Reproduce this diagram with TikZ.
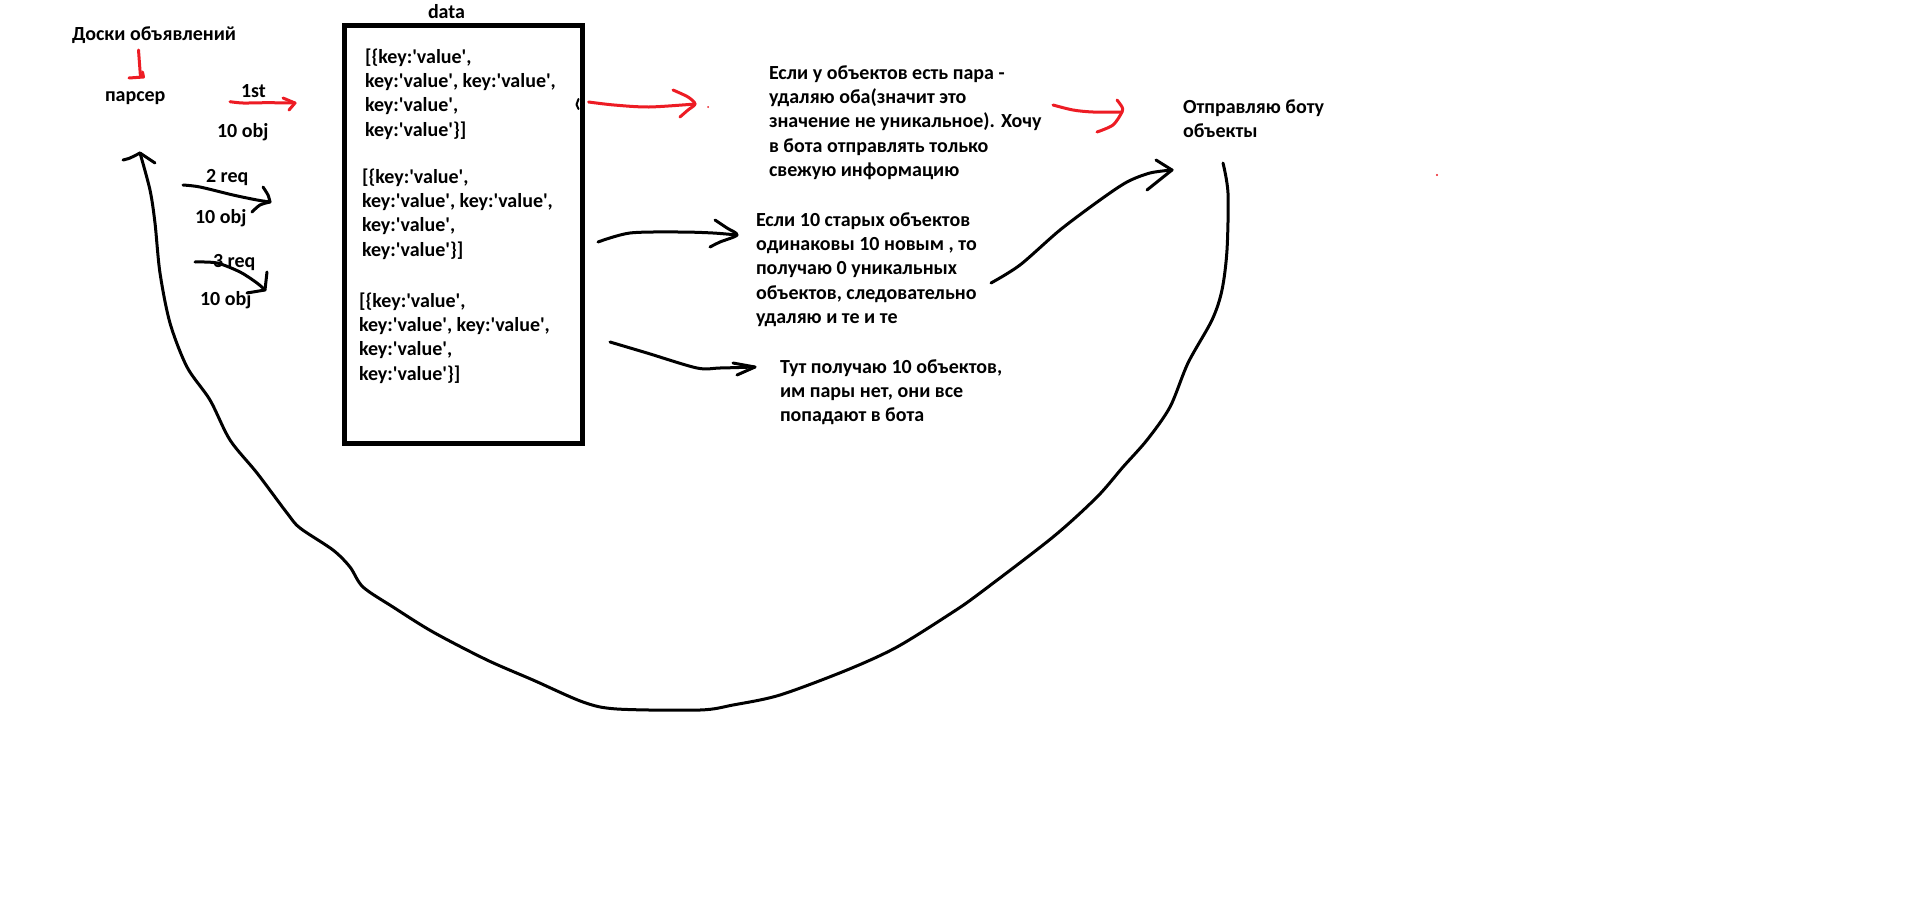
\documentclass[tikz,border=0pt]{standalone}
\usepackage{fontspec}
\setmainfont{Carlito}
\definecolor{pr}{RGB}{237,28,36}
\newcommand\kv{key:\textquotesingle value\textquotesingle}
\newcommand\mlines[1]{\vtop{\baselineskip=24.4pt #1}}
\begin{document}
\begin{tikzpicture}[x=1pt,y=-1pt,
  txt/.style={inner sep=0pt,outer sep=0pt,anchor=base west,font=\fontsize{20}{24.4}\selectfont\bfseries},
  pen/.style={line width=3pt,line cap=round,line join=round},
  rpen/.style={pen,draw=pr}]
\useasboundingbox[fill=white] (0,0) rectangle (1920,905);

% texts
\node[txt] (doski) at (72,40) {Доски объявлений};
\node[txt] (parser) at (105,101) {парсер};
\node[txt] (first) at (241,97) {1st};
\node[txt] (obj1) at (217,137) {10 obj};
\node[txt] (req2) at (206,182) {2 req};
\node[txt] (obj2) at (195,223) {10 obj};
\node[txt] (req3) at (213,267) {3 req};
\node[txt] (obj3) at (200,305) {10 obj};
\node[txt] (data) at (428,18) {data};

% data box
\node[draw,line width=5pt,inner sep=0pt,minimum width=238pt,minimum height=418pt,anchor=north west] (box) at (341.5,22.5) {};
\node[txt] (b1) at (365,63) {\mlines{\hbox{[\{\kv,}\hbox{\kv, \kv,}\hbox{\kv,}\hbox{\kv\}]}}};
\node[txt] (b2) at (362,183) {\mlines{\hbox{[\{\kv,}\hbox{\kv, \kv,}\hbox{\kv,}\hbox{\kv\}]}}};
\node[txt] (b3) at (359,307) {\mlines{\hbox{[\{\kv,}\hbox{\kv, \kv,}\hbox{\kv,}\hbox{\kv\}]}}};

\node[txt] (t1) at (769,79) {\mlines{\hbox{Если у объектов есть пара -}\hbox{удаляю оба(значит это}\hbox{значение не уникальное). Хочу}\hbox{в бота отправлять только}\hbox{свежую информацию}}};
\node[txt] (t2) at (756,226) {\mlines{\hbox{Если 10 старых объектов}\hbox{одинаковы 10 новым , то}\hbox{получаю 0 уникальных}\hbox{объектов, следовательно}\hbox{удаляю и те и те}}};
\node[txt] (t3) at (780,373) {\mlines{\hbox{Тут получаю 10 объектов,}\hbox{им пары нет, они все}\hbox{попадают в бота}}};
\node[txt] (t4) at (1183,113) {\mlines{\hbox{Отправляю боту}\hbox{объекты}}};

% red arrows
\draw[rpen] (138.5,50) -- (140.5,77);
\draw[rpen] (129,78) -- (143.5,77) -- (142.5,72);
\draw[rpen] plot[smooth] coordinates {(230,101.7) (243,103) (267,102.7) (295,103)};
\draw[rpen] (283,98) -- (295,103) -- (289,110);
\draw[rpen] plot[smooth] coordinates {(588.6,102) (614,105) (649,107) (695,104)};
\draw[rpen] plot[smooth] coordinates {(673,90) (688,97) (695,104) (688,110) (680,117)};
\draw[rpen] plot[smooth] coordinates {(1053,105) (1073,110) (1093,112) (1122,112)};
\draw[rpen] plot[smooth] coordinates {(1117,100) (1122,107) (1122,112) (1113,125) (1097,132)};
\fill[pr] (708,107) circle (1pt);
\fill[pr] (1437,175) circle (1.2pt);

% black arrows
\draw[line width=2pt,line cap=round,line join=round] (578.5,99) -- (576.5,104.5) -- (578.5,109);
\draw[pen] plot[smooth] coordinates {(183,185) (200,187) (233,195) (257,200) (270,202)};
\draw[pen] plot[smooth] coordinates {(263,187) (268,195) (270,202)};
\draw[pen] plot[smooth] coordinates {(270,202) (260,205) (252,212)};
\draw[pen] plot[smooth] coordinates {(195,262) (217,263) (240,272) (257,283) (265,290)};
\draw[pen] (267,272) -- (265,290) -- (247,293);
\draw[pen] plot[smooth] coordinates {(598,242) (630,233) (680,232) (713,233) (737,235)};
\draw[pen] plot[smooth] coordinates {(715,220) (727,228) (737,235) (720,242) (710,247)};
\draw[pen] plot[smooth] coordinates {(610,342) (647,353) (697,368) (720,368) (755,367)};
\draw[pen] (733,363) -- (755,367) -- (737,375);
\draw[pen] plot[smooth] coordinates {(991,283) (1020,265) (1060,230) (1100,200) (1127,182) (1150,173) (1172,170)};
\draw[pen] (1156,160) -- (1172,170) -- (1147,190);

% big return curve
\draw[pen] plot[smooth,tension=0.5] coordinates {(1223,163) (1228,193) (1227,250) (1222,290) (1212,320) (1188,363) (1170,407) (1147,440) (1123,467) (1097,497) (1053,537) (980,593) (953,612) (897,647) (847,670) (780,695) (733,705) (700,710) (617,709) (583,702) (533,680) (487,660) (433,632) (393,607) (363,587) (350,567) (333,550) (300,528) (287,513) (257,473) (230,440) (210,400) (187,367) (170,323) (160,273) (155,223) (150,190) (140,153)};
\draw[pen] plot[smooth] coordinates {(123,160) (130,158) (140,153)};
\draw[pen] (140,153) -- (155,163);
\end{tikzpicture}
\end{document}
